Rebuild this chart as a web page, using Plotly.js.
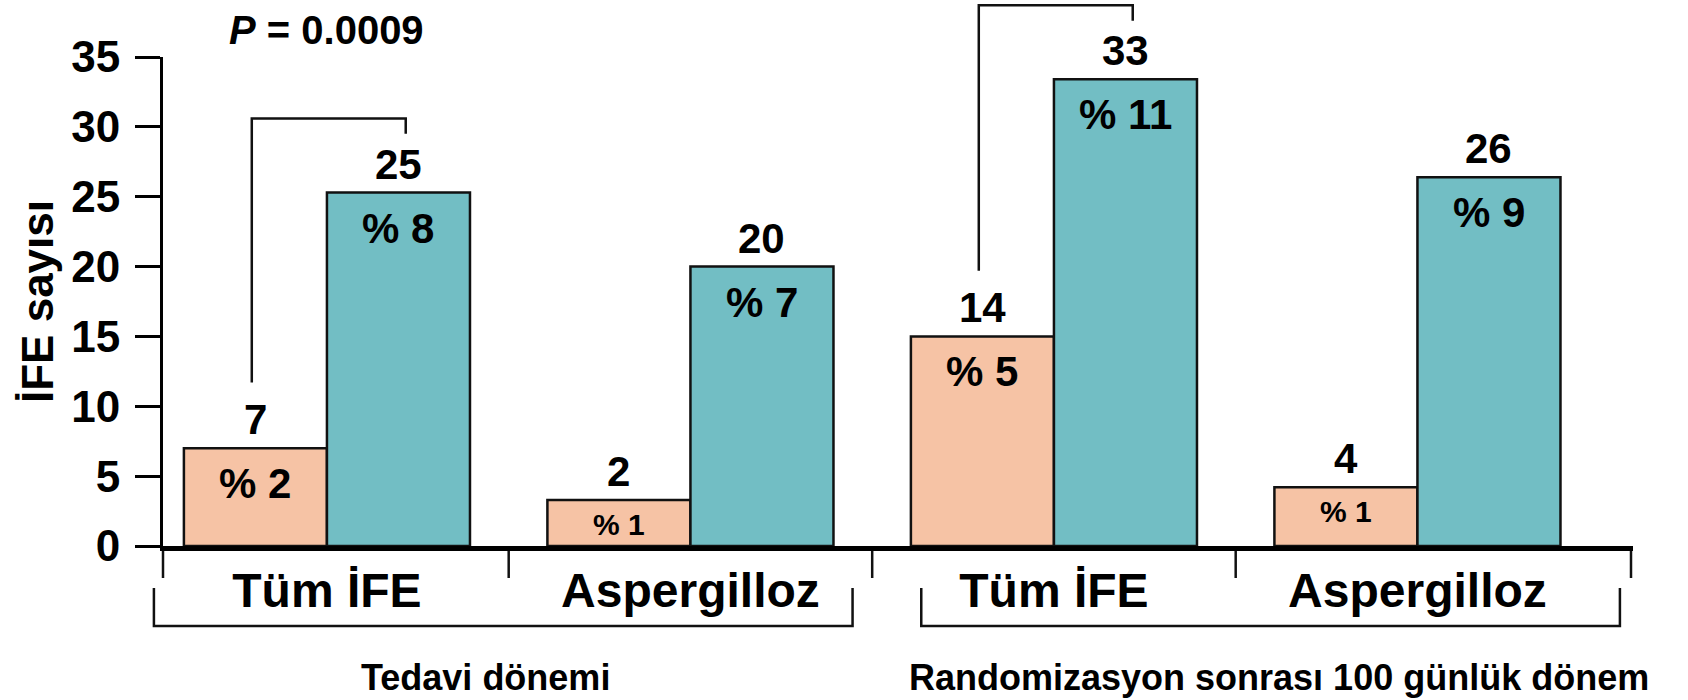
<!DOCTYPE html>
<html>
<head>
<meta charset="utf-8">
<script src="https://cdn.plot.ly/plotly-3.0.1.min.js"></script>
<style>
html,body{margin:0;padding:0;background:#fff;}
#chart{width:1688px;height:700px;}
</style>
</head>
<body>
<div id="chart"></div>
<script>
// ---------- data ----------
const categories = ["Tüm İFE", "Aspergilloz", "Tüm İFE", "Aspergilloz"];
const periods = ["Tedavi dönemi", "Randomizasyon sonrası 100 günlük dönem"];
const seriesNames = ["Posakonazol", "Flukonazol veya İtrakonazol"];
const posaHeights = [7, 3.3, 15, 4.2];
const posaCounts = ["7", "2", "14", "4"];
const posaPercents = ["% 2", "% 1", "% 5", "% 1"];
const compHeights = [25.3, 20, 33.4, 26.4];
const compCounts = ["25", "20", "33", "26"];
const compPercents = ["% 8", "% 7", "% 11", "% 9"];
const yTicks = [0, 5, 10, 15, 20, 25, 30, 35];
const bracketGroups = [0, 2];
const bracketLabels = ["<i>P</i> = 0.0009", ""];

// ---------- geometry / style ----------
const FONT = "Liberation Sans, Arial, Helvetica, sans-serif";
const ORANGE = "#F6C3A5";
const TEAL = "#72BEC4";
const INK = "#111111";
const M = {l: 163, r: 55, t: 57, b: 154};
const PW = 1688 - M.l - M.r, PH = 700 - M.t - M.b;
const xRange = [-0.451, 3.593];
const yRange = [0, 35];
const BARGAP = 0.213;
const half = (1 - BARGAP) / 4;          // offset of each bar centre from the category centre

const xi = categories.map((_, i) => i);
const toPX = x => (x - xRange[0]) / (xRange[1] - xRange[0]);   // data x -> paper
const toPY = y => (y - yRange[0]) / (yRange[1] - yRange[0]);   // data y -> paper
const pixY = p => (M.t + PH - p) / PH;                          // page px -> paper
const pixX = p => (p - M.l) / PW;

const traces = [
  {type: "bar", name: seriesNames[0], x: xi, y: posaHeights,
   marker: {color: ORANGE, line: {color: INK, width: 2.5}}, hoverinfo: "skip"},
  {type: "bar", name: seriesNames[1], x: xi, y: compHeights,
   marker: {color: TEAL, line: {color: INK, width: 2.5}}, hoverinfo: "skip"}
];

const annotations = [];
const shapes = [];
const bold = (size) => ({family: FONT, size: size, color: "#000", weight: 700});

function labelBars(heights, counts, pcts, sign) {
  heights.forEach((h, i) => {
    const x = i + sign * half;
    annotations.push({x: x, y: h, xref: "x", yref: "y", text: "<b>" + counts[i] + "</b>",
      showarrow: false, xanchor: "center", yanchor: "bottom", yshift: 3, font: bold(42)});
    const small = h < 5;
    annotations.push({x: x, y: h, xref: "x", yref: "y", text: "<b>" + pcts[i] + "</b>",
      showarrow: false, xanchor: "center", yanchor: "top", yshift: small ? -6 : -10,
      font: bold(small ? 30 : 42)});
  });
}
labelBars(posaHeights, posaCounts, posaPercents, -1);
labelBars(compHeights, compCounts, compPercents, 1);

// significance brackets (from the orange bar up and over to the teal bar)
bracketGroups.forEach((g, k) => {
  const xl = toPX(g - half - 0.01), xr = toPX(g + half + 0.02);
  const yb = toPY(posaHeights[g] + 4.7);
  const yt = toPY(compHeights[g] + 5.3);
  const yr = toPY(compHeights[g] + 4.2);
  shapes.push({type: "path", xref: "paper", yref: "paper",
    path: `M ${xl} ${yb} L ${xl} ${yt} L ${xr} ${yt} L ${xr} ${yr}`,
    line: {color: INK, width: 2.5}});
  if (bracketLabels[k]) {
    annotations.push({x: toPX(g), y: toPY(compHeights[g] + 11.6), xref: "paper", yref: "paper",
      text: "<b>" + bracketLabels[k] + "</b>", showarrow: false,
      xanchor: "center", yanchor: "middle", font: bold(40)});
  }
});

// divider ticks under the category axis
const dividers = [0, pixX(1631)].concat([0.5, 1.5, 2.5].map(toPX));
dividers.forEach(d => shapes.push({type: "line", xref: "paper", yref: "paper",
  x0: d, x1: d, y0: pixY(551), y1: pixY(578), line: {color: INK, width: 2.5}}));

// period brackets
const periodSpans = [[-0.476, 1.446], [1.635, 3.557]];
const periodCentres = [0.435, 2.62];
periodSpans.forEach((s, k) => {
  const a = toPX(s[0]), b = toPX(s[1]);
  const top = pixY(588), bot = pixY(626);
  shapes.push({type: "path", xref: "paper", yref: "paper",
    path: `M ${a} ${top} L ${a} ${bot} L ${b} ${bot} L ${b} ${top}`,
    line: {color: INK, width: 2.5}});
  annotations.push({x: toPX(periodCentres[k]), y: pixY(677), xref: "paper", yref: "paper",
    text: "<b>" + periods[k] + "</b>", showarrow: false,
    xanchor: "center", yanchor: "middle", font: bold(36)});
});

const layout = {
  width: 1688, height: 700,
  margin: M,
  paper_bgcolor: "#fff", plot_bgcolor: "#fff",
  showlegend: false,
  barmode: "group", bargap: BARGAP, bargroupgap: 0,
  font: {family: FONT, color: "#000"},
  xaxis: {
    range: xRange, tickmode: "array", tickvals: xi, ticktext: categories,
    showgrid: false, zeroline: false, showline: true, linecolor: "#000", linewidth: 5,
    ticks: "", ticklabelstandoff: -2, tickfont: bold(48), fixedrange: true
  },
  yaxis: {
    range: yRange, tickmode: "array", tickvals: yTicks,
    showgrid: false, zeroline: false, showline: true, linecolor: "#000", linewidth: 3,
    ticks: "outside", ticklen: 25, tickwidth: 3, tickcolor: "#000",
    ticklabelstandoff: 6, tickfont: bold(44),
    title: {text: "İFE sayısı", font: bold(44), standoff: 4}, fixedrange: true
  },
  shapes: shapes,
  annotations: annotations
};

Plotly.newPlot("chart", traces, layout, {displayModeBar: false, staticPlot: true});
</script>
</body>
</html>
